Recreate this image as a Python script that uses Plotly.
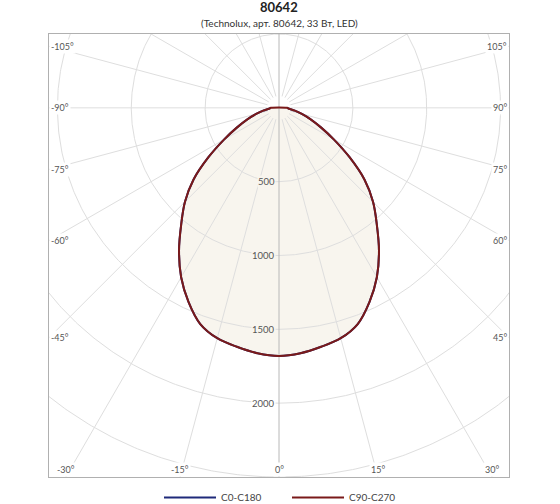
import numpy as np
import plotly.graph_objects as go

# ---- data ----
title_text = "80642"
subtitle_text = "(Technolux, арт. 80642, 33 Вт, LED)"
gamma_deg = [0, 5, 10, 15, 20, 25, 30, 35, 40, 45, 50, 55, 60, 65, 70, 75, 80, 85, 90]
c0_c180 = [1680, 1668, 1643, 1615, 1558, 1450, 1325, 1180, 1030, 900, 755, 583, 430, 313, 228, 160, 109, 68, 55]
c90_c270 = [1680, 1668, 1643, 1615, 1558, 1450, 1325, 1180, 1030, 900, 755, 583, 430, 313, 228, 160, 109, 68, 55]
ring_values = [500, 1000, 1500, 2000, 2500, 3000]
ring_labels = [500, 1000, 1500, 2000]
angle_labels = [-105, -90, -75, -60, -45, -30, -15, 0, 15, 30, 45, 60, 75, 90, 105]
series_names = ["C0-C180", "C90-C270"]

# ---- styling ----
FONT = "Lato"
GRID = "#dedede"
AXIS_DARK = "#b8b8b8"
FILL = "#f8f5ee"
RED = "#7a1a1a"
NAVY = "#1f2a7a"

X_HALF = 1557.0
Y_TOP = 500.0
Y_BOT = -2500.0


def to_xy(theta_deg, r):
    t = np.radians(np.asarray(theta_deg, dtype=float))
    r = np.asarray(r, dtype=float)
    return r * np.sin(t), -r * np.cos(t)


def full_curve(vals):
    th = [-g for g in gamma_deg[::-1]] + gamma_deg[1:]
    rr = list(vals[::-1]) + list(vals[1:])
    return to_xy(th, rr)


def add_grid(fig):
    tt = np.linspace(0, 360, 721)
    for rv in ring_values:
        x, y = to_xy(tt, np.full_like(tt, rv))
        fig.add_trace(go.Scatter(x=x, y=y, mode="lines", line=dict(color=GRID, width=1),
                                 hoverinfo="skip", showlegend=False))
    for a in range(0, 360, 15):
        if a % 90 == 0:
            continue
        x, y = to_xy([a, a], [80, 6000])
        fig.add_trace(go.Scatter(x=x, y=y, mode="lines", line=dict(color=GRID, width=1),
                                 hoverinfo="skip", showlegend=False))
    for a, col in [(90, GRID), (270, GRID), (0, AXIS_DARK), (180, AXIS_DARK)]:
        x, y = to_xy([a, a], [0, 6000])
        fig.add_trace(go.Scatter(x=x, y=y, mode="lines", line=dict(color=col, width=1),
                                 hoverinfo="skip", showlegend=False))


fig = go.Figure()

xf, yf = full_curve(c90_c270)
fig.add_trace(go.Scatter(x=xf, y=yf, mode="lines", fill="toself", fillcolor=FILL,
                         line=dict(color="rgba(0,0,0,0)", width=0, shape="spline", smoothing=1.0),
                         hoverinfo="skip", showlegend=False))
add_grid(fig)

x0, y0 = full_curve(c0_c180)
fig.add_trace(go.Scatter(x=x0, y=y0, mode="lines", name=series_names[0],
                         line=dict(color=NAVY, width=2, shape="spline", smoothing=1.0),
                         hoverinfo="skip"))
x1, y1 = full_curve(c90_c270)
x1 = np.append(x1, x1[0]); y1 = np.append(y1, y1[0])
fig.add_trace(go.Scatter(x=x1, y=y1, mode="lines", name=series_names[1],
                         line=dict(color=RED, width=2, shape="spline", smoothing=1.0),
                         hoverinfo="skip"))

annotations = []
for a in angle_labels:
    t = np.radians(a)
    dx, dy = np.sin(t), -np.cos(t)
    cands = []
    if abs(dx) > 1e-9:
        cands.append((X_HALF / abs(dx), "side"))
    if dy < -1e-9:
        cands.append((Y_BOT / dy, "bottom"))
    if dy > 1e-9:
        cands.append((Y_TOP / dy, "top"))
    s, edge = min(cands, key=lambda c: c[0])
    px, py = s * dx, s * dy
    txt = f"{a}°"
    if edge == "bottom":
        annotations.append(dict(x=px, y=py, xref="x", yref="y", text=txt, showarrow=False,
                                xanchor="center", yanchor="bottom", bgcolor="white", borderpad=1,
                                font=dict(family=FONT, size=9, color="#555555")))
    else:
        annotations.append(dict(x=px, y=py, xref="x", yref="y", text=txt, showarrow=False,
                                xanchor="left" if px < 0 else "right", yanchor="middle",
                                bgcolor="white", borderpad=1,
                                font=dict(family=FONT, size=9, color="#555555")))

for rv in ring_labels:
    annotations.append(dict(x=0, y=-rv, xref="x", yref="y", text=str(rv), showarrow=False,
                            xanchor="right", yanchor="middle", xshift=-3,
                            bgcolor=FILL if rv < c90_c270[0] else "white", borderpad=0,
                            font=dict(family=FONT, size=9.5, color="#555555")))

annotations.append(dict(x=0.5, y=1, xref="paper", yref="paper", text=f"<b>{title_text}</b>",
                        showarrow=False, xanchor="center", yanchor="middle", yshift=27,
                        font=dict(family=FONT, size=13, color="#222222")))
annotations.append(dict(x=0.5, y=1, xref="paper", yref="paper", text=subtitle_text,
                        showarrow=False, xanchor="center", yanchor="middle", yshift=11.5,
                        font=dict(family=FONT, size=10, color="#333333")))

fig.update_layout(
    width=560, height=504,
    margin=dict(l=49, r=51, t=34, b=27, pad=0, autoexpand=False),
    paper_bgcolor="white", plot_bgcolor="white",
    xaxis=dict(range=[-X_HALF, X_HALF], showgrid=False, zeroline=False, showticklabels=False,
               ticks="", showline=True, mirror=True, linecolor="#b0b0b0", linewidth=1, fixedrange=True),
    yaxis=dict(range=[Y_BOT, Y_TOP], showgrid=False, zeroline=False, showticklabels=False,
               ticks="", showline=True, mirror=True, linecolor="#b0b0b0", linewidth=1, fixedrange=True),
    annotations=annotations,
    showlegend=True,
    legend=dict(orientation="h", x=(159 - 49) / 460, xanchor="left", y=-0.0135, yanchor="top",
                font=dict(family=FONT, size=10, color="#444444"), itemwidth=52,
                entrywidth=61, entrywidthmode="pixels",
                bgcolor="rgba(0,0,0,0)"),
    hovermode=False,
)

fig.write_html("out.html", config={"displayModeBar": False},
               post_script="document.body.style.margin='0px';")
